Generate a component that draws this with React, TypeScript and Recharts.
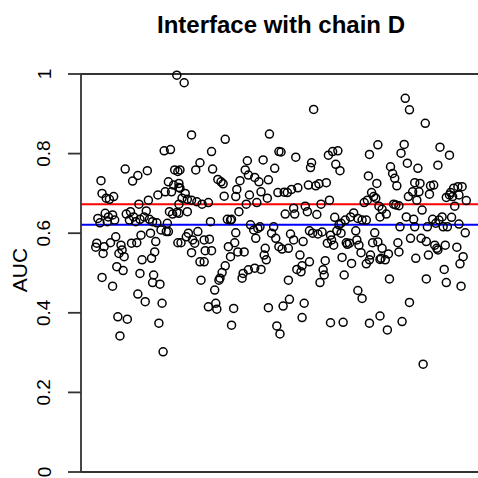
import React from "react";
import { ScatterChart, Scatter, XAxis, YAxis, ReferenceLine } from "recharts";

// [observation index, AUC]
const points: [number, number][] = [
  [78, 0.997], [66, 0.807], [72, 0.81], [29, 0.761], [41, 0.745], [36, 0.731], [50, 0.757], [6, 0.732],
  [7, 0.7], [11, 0.688], [18, 0.692], [14, 0.685], [76, 0.759], [79, 0.755], [70, 0.729], [75, 0.721],
  [80, 0.715], [73, 0.704], [67, 0.704], [60, 0.696], [51, 0.683], [42, 0.673], [3, 0.637], [10, 0.65],
  [13, 0.641], [17, 0.646], [19, 0.633], [12, 0.629], [5, 0.626], [30, 0.648], [34, 0.654], [37, 0.641],
  [33, 0.633], [39, 0.629], [43, 0.635], [47, 0.641], [49, 0.656], [52, 0.635], [55, 0.629], [71, 0.654],
  [74, 0.648], [78, 0.652], [59, 0.626], [63, 0.608], [68, 0.604], [70, 0.604], [69, 0.625], [79, 0.576],
  [20, 0.591], [15, 0.576], [9, 0.566], [8, 0.549], [2, 0.575], [1, 0.565], [25, 0.57], [26, 0.558],
  [23, 0.549], [28, 0.541], [35, 0.575], [40, 0.576], [44, 0.595], [53, 0.6], [58, 0.579], [57, 0.553],
  [54, 0.537], [45, 0.533], [21, 0.516], [27, 0.506], [7, 0.489], [17, 0.467], [43, 0.499], [56, 0.495],
  [55, 0.476], [62, 0.472], [41, 0.447], [48, 0.428], [64, 0.424], [22, 0.39], [31, 0.384], [24, 0.342],
  [61, 0.374], [65, 0.302],
];

const points2: [number, number][] = [
  [85, 0.978], [92, 0.847], [124, 0.836], [166, 0.849], [111, 0.805], [175, 0.805], [100, 0.777], [96, 0.759],
  [81, 0.759], [112, 0.761], [145, 0.782], [160, 0.784], [171, 0.763], [143, 0.759], [146, 0.746], [117, 0.735],
  [120, 0.729], [122, 0.724], [138, 0.732], [135, 0.71], [134, 0.692], [152, 0.74], [156, 0.729], [165, 0.734],
  [158, 0.704], [164, 0.688], [147, 0.696], [144, 0.673], [154, 0.677], [123, 0.693], [80, 0.725], [81, 0.713],
  [86, 0.7], [83, 0.688], [88, 0.685], [92, 0.683], [97, 0.679], [102, 0.673], [108, 0.677], [80, 0.673],
  [88, 0.654], [80, 0.65], [110, 0.629], [126, 0.635], [129, 0.633], [130, 0.635], [137, 0.654], [174, 0.702],
  [148, 0.621], [151, 0.608], [155, 0.612], [153, 0.587], [157, 0.616], [170, 0.616], [168, 0.6], [172, 0.587],
  [175, 0.566], [89, 0.6], [98, 0.604], [93, 0.583], [95, 0.575], [87, 0.591], [82, 0.576], [104, 0.583],
  [109, 0.585], [105, 0.556], [111, 0.556], [92, 0.551], [100, 0.528], [104, 0.528], [134, 0.601], [133, 0.576],
  [127, 0.566], [129, 0.541], [136, 0.553], [142, 0.553], [124, 0.518], [121, 0.501], [118, 0.482], [119, 0.487],
  [162, 0.562], [161, 0.545], [163, 0.533], [158, 0.509], [152, 0.512], [146, 0.508], [141, 0.499], [140, 0.487],
  [101, 0.482], [114, 0.457], [108, 0.415], [115, 0.424], [116, 0.409], [132, 0.411], [130, 0.369], [165, 0.413],
  [173, 0.367], [176, 0.347],
];

const points3: [number, number][] = [
  [208, 0.911], [269, 0.822], [261, 0.798], [177, 0.804], [191, 0.791], [206, 0.777], [205, 0.765], [222, 0.796],
  [226, 0.805], [231, 0.807], [229, 0.773], [233, 0.757], [260, 0.744], [263, 0.702], [268, 0.725], [267, 0.688],
  [180, 0.703], [183, 0.702], [187, 0.71], [193, 0.714], [203, 0.721], [210, 0.719], [213, 0.724], [220, 0.727],
  [215, 0.673], [223, 0.683], [200, 0.668], [189, 0.663], [202, 0.654], [181, 0.648], [190, 0.648], [211, 0.647],
  [228, 0.64], [232, 0.621], [234, 0.625], [238, 0.633], [243, 0.641], [246, 0.651], [250, 0.637], [254, 0.633],
  [258, 0.633], [256, 0.677], [259, 0.683], [265, 0.692], [271, 0.641], [270, 0.668], [230, 0.606], [234, 0.6],
  [248, 0.606], [249, 0.583], [204, 0.606], [207, 0.6], [212, 0.598], [216, 0.603], [224, 0.595], [225, 0.583],
  [221, 0.575], [227, 0.57], [239, 0.576], [242, 0.575], [240, 0.572], [251, 0.57], [253, 0.551], [266, 0.601],
  [264, 0.576], [269, 0.578], [186, 0.598], [189, 0.583], [198, 0.579], [178, 0.56], [184, 0.562], [195, 0.545],
  [204, 0.528], [197, 0.518], [192, 0.509], [196, 0.503], [219, 0.531], [217, 0.508], [218, 0.495], [214, 0.476],
  [235, 0.539], [244, 0.524], [237, 0.495], [261, 0.533], [258, 0.523], [262, 0.545], [271, 0.534], [184, 0.482],
  [250, 0.456], [254, 0.436], [179, 0.417], [185, 0.434], [199, 0.424], [197, 0.388], [224, 0.375], [236, 0.376],
  [261, 0.374], [271, 0.392],
];

const points4: [number, number][] = [
  [295, 0.939], [299, 0.91], [314, 0.876], [294, 0.823], [291, 0.801], [297, 0.776], [307, 0.763], [328, 0.816],
  [337, 0.796], [326, 0.771], [281, 0.767], [283, 0.75], [285, 0.738], [287, 0.719], [304, 0.727], [309, 0.725],
  [319, 0.719], [322, 0.721], [302, 0.704], [298, 0.692], [308, 0.704], [318, 0.698], [306, 0.683], [311, 0.658],
  [284, 0.673], [286, 0.671], [289, 0.669], [334, 0.69], [338, 0.702], [341, 0.713], [345, 0.717], [349, 0.717],
  [340, 0.692], [346, 0.696], [353, 0.682], [342, 0.668], [337, 0.696], [277, 0.648], [273, 0.66], [296, 0.641],
  [303, 0.635], [290, 0.616], [304, 0.616], [316, 0.616], [321, 0.635], [330, 0.641], [331, 0.616], [339, 0.64],
  [335, 0.616], [346, 0.623], [352, 0.601], [324, 0.625], [327, 0.633], [300, 0.587], [310, 0.587], [315, 0.579],
  [323, 0.57], [325, 0.562], [326, 0.558], [317, 0.545], [305, 0.537], [288, 0.576], [289, 0.553], [344, 0.565],
  [350, 0.541], [347, 0.523], [333, 0.57], [332, 0.509], [334, 0.476], [348, 0.467], [315, 0.485], [280, 0.485],
  [273, 0.562], [272, 0.537], [276, 0.533], [279, 0.548], [299, 0.426], [278, 0.357], [292, 0.378], [312, 0.271],
];

const redLineAUC = 0.673;
const blueLineAUC = 0.621;
const yTicks = [0, 0.2, 0.4, 0.6, 0.8, 1];
const xDomain: [number, number] = [-13, 366];
const title = "Interface with chain D";
const yLabel = "AUC";

const data = [...points, ...points2, ...points3, ...points4].map(([obs, auc]) => ({ obs, auc }));

const FONT = "'Liberation Sans', Arial, Helvetica, sans-serif";
const AXIS = "#333";

const YTick = (props: any) => {
  const { y, payload } = props;
  const cx = 44;
  return (
    <text
      x={cx}
      y={y}
      transform={`rotate(-90, ${cx}, ${y})`}
      textAnchor="middle"
      dominantBaseline="central"
      fontFamily={FONT}
      fontSize={19}
      fill="#000"
    >
      {String(payload.value)}
    </text>
  );
};

const Ring = (props: any) => {
  const { cx, cy } = props;
  if (cx == null || cy == null) return null;
  return <circle cx={cx} cy={cy} r={4} fill="none" stroke="#000" strokeWidth={1.5} />;
};

export default function App() {
  return (
    <div style={{ position: "absolute", left: 0, top: 0, width: 478, height: 478, overflow: "hidden", background: "#fff" }}>
      <ScatterChart width={492} height={478} margin={{ top: 74, right: 12, bottom: 6, left: 0 }}>
        <XAxis type="number" dataKey="obs" domain={xDomain} hide allowDataOverflow />
        <YAxis
          type="number"
          dataKey="auc"
          domain={[0, 1]}
          ticks={yTicks}
          width={81}
          tickSize={13}
          tick={<YTick />}
          axisLine={{ stroke: AXIS, strokeWidth: 1.8 }}
          tickLine={{ stroke: AXIS, strokeWidth: 1.8 }}
          interval={0}
        />
        <ReferenceLine y={1} stroke={AXIS} strokeWidth={1.8} />
        <ReferenceLine y={0} stroke={AXIS} strokeWidth={1.8} />
        <Scatter data={data} shape={<Ring />} isAnimationActive={false} />
        <ReferenceLine y={redLineAUC} stroke="#ff0000" strokeWidth={2} />
        <ReferenceLine y={blueLineAUC} stroke="#0000ff" strokeWidth={2} />
      </ScatterChart>
      <svg width={478} height={478} style={{ position: "absolute", left: 0, top: 0, pointerEvents: "none" }}>
        <text x={281} y={33} textAnchor="middle" fontFamily={FONT} fontWeight="bold" fontSize={24} fill="#000">
          {title}
        </text>
        <text
          x={19}
          y={270}
          transform="rotate(-90, 19, 270)"
          textAnchor="middle"
          dominantBaseline="central"
          fontFamily={FONT}
          fontSize={21}
          fill="#000"
        >
          {yLabel}
        </text>
      </svg>
    </div>
  );
}
